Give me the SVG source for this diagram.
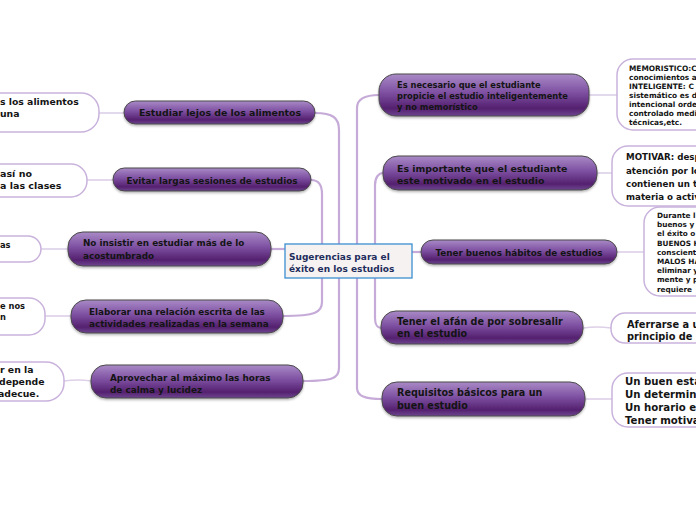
<svg xmlns="http://www.w3.org/2000/svg" width="696" height="520" viewBox="0 0 696 520">
<defs>
<linearGradient id="pg" x1="0" y1="0" x2="0" y2="1">
<stop offset="0" stop-color="#a98ac6"/>
<stop offset="0.45" stop-color="#7d4fa1"/>
<stop offset="0.82" stop-color="#54206f"/>
<stop offset="1" stop-color="#6e4590"/>
</linearGradient>
<filter id="sh" x="-10%" y="-20%" width="120%" height="160%">
<feDropShadow dx="0" dy="1.5" stdDeviation="1.2" flood-color="#000" flood-opacity="0.3"/>
</filter>
</defs>
<style>
.pill{fill:url(#pg);stroke:#4a4a4a;stroke-width:1;filter:url(#sh)}
.leaf{fill:#fff;stroke:#c9b2dc;stroke-width:1.5}
.main{fill:none;stroke:#c6abd9;stroke-width:2.2}
.sub{fill:none;stroke:#ddd0e8;stroke-width:1.6}
text{font-family:"DejaVu Sans","Liberation Sans",sans-serif;font-weight:bold;fill:#141414}
.c{text-anchor:middle}
</style>
<rect width="696" height="520" fill="#fff"/>
<g id="connectors">
<path class="main" d="M315,113 C333,113 339,118 339,130 L339,244"/>
<path class="main" d="M339,278 L339,368 C339,378 333,381 303,381"/>
<path class="main" d="M311,180 C319,180 322,185 322,194 L322,244"/>
<path class="main" d="M322,278 L322,302 C322,312 316,316 283,316"/>
<path class="main" d="M271,249 L285,249"/>
<path class="main" d="M357,244 L357,108 C357,99 364,95 379,95"/>
<path class="main" d="M357,278 L357,388 C357,396 365,399 382,399"/>
<path class="main" d="M375,244 L375,185 C375,177 379,173 383,173"/>
<path class="main" d="M375,278 L375,318 C375,325 378,328 381,328"/>
<path class="main" d="M412,252 L421,252"/>
<path class="sub" d="M99,113 L124,113"/>
<path class="sub" d="M87,180 L113,180"/>
<path class="sub" d="M41,249 L68,249"/>
<path class="sub" d="M45,316 L71,316"/>
<path class="sub" d="M64,381 Q78,379 91,381"/>
<path class="sub" d="M589,95 L617,95"/>
<path class="sub" d="M597,173 L612,173"/>
<path class="sub" d="M617,252 L644,252"/>
<path class="sub" d="M583,328 Q597,326 611,328"/>
<path class="sub" d="M585,399 L612,399"/>
</g>
<g id="center">
<rect x="285" y="244" width="127" height="34" fill="#f6f2f2" stroke="#3b8fd0" stroke-width="1.3"/>
<text x="289" y="260" font-size="9" style="fill:#1f2d5c">Sugerencias para el</text>
<text x="289" y="271.5" font-size="9" style="fill:#1f2d5c">éxito en los estudios</text>
</g>
<g id="l1">
<rect class="pill" x="124" y="101" width="191" height="23" rx="11.5"/>
<text class="c" x="220" y="116" font-size="9.4">Estudiar lejos de los alimentos</text>
</g>
<g id="l2">
<rect class="pill" x="113" y="168" width="198" height="23" rx="11.5"/>
<text class="c" x="212" y="184" font-size="8.9">Evitar largas sesiones de estudios</text>
</g>
<g id="l3">
<rect class="pill" x="68" y="232" width="203" height="34" rx="15"/>
<text x="83" y="246" font-size="8.8">No insistir en estudiar más de lo</text>
<text x="83" y="258.5" font-size="8.8">acostumbrado</text>
</g>
<g id="l4">
<rect class="pill" x="71" y="300" width="212" height="33" rx="15"/>
<text x="89" y="315" font-size="8.8">Elaborar una relación escrita  de las</text>
<text x="89" y="327" font-size="8.8">actividades  realizadas en la semana</text>
</g>
<g id="l5">
<rect class="pill" x="91" y="365" width="212" height="33" rx="15"/>
<text x="110" y="381" font-size="8.9">Aprovechar al máximo las horas</text>
<text x="110" y="392.5" font-size="8.9">de calma y lucidez</text>
</g>
<g id="ll1">
<rect class="leaf" x="-30" y="93" width="129" height="39" rx="18"/>
<text x="0" y="105" font-size="9.3">s los alimentos</text>
<text x="0" y="116.5" font-size="9.3">una</text>
</g>
<g id="ll2">
<rect class="leaf" x="-30" y="164" width="117" height="33" rx="16"/>
<text x="0" y="176.5" font-size="9.5">así no</text>
<text x="0" y="188.5" font-size="9.5">a las clases</text>
</g>
<g id="ll3">
<rect class="leaf" x="-30" y="236" width="71" height="26" rx="13"/>
<text x="0" y="248" font-size="8.3">as</text>
</g>
<g id="ll4">
<rect class="leaf" x="-30" y="298" width="75" height="37" rx="16"/>
<text x="0" y="308.5" font-size="8.3">e nos</text>
<text x="0" y="319.5" font-size="8.3">n</text>
</g>
<g id="ll5">
<rect class="leaf" x="-30" y="362" width="94" height="39" rx="18"/>
<text x="0" y="373" font-size="9.3">r en la</text>
<text x="-1" y="385" font-size="9.3">depende</text>
<text x="-2" y="397" font-size="9.3">adecue.</text>
</g>
<g id="r1">
<rect class="pill" x="379" y="74" width="210" height="42" rx="17"/>
<text x="397" y="88" font-size="8.3">Es necesario que el estudiante</text>
<text x="397" y="99" font-size="8.3">propicie el estudio inteligentemente</text>
<text x="397" y="110" font-size="8.3">y no memorístico</text>
</g>
<g id="r2">
<rect class="pill" x="383" y="156" width="214" height="34" rx="15"/>
<text x="397" y="171.5" font-size="9.4">Es importante que el estudiante</text>
<text x="397" y="184" font-size="9.4">este motivado en el estudio</text>
</g>
<g id="r3">
<rect class="pill" x="421" y="240" width="196" height="24" rx="12"/>
<text class="c" x="519" y="255.5" font-size="8.8">Tener buenos hábitos de estudios</text>
</g>
<g id="r4">
<rect class="pill" x="381" y="311" width="202" height="33" rx="15"/>
<text x="397" y="324.5" font-size="9.6">Tener el afán de por sobresalir</text>
<text x="397" y="337" font-size="9.6">en el estudio</text>
</g>
<g id="r5">
<rect class="pill" x="382" y="382" width="203" height="34" rx="15"/>
<text x="397" y="396" font-size="9.6">Requisitos básicos para un</text>
<text x="397" y="408.5" font-size="9.6">buen estudio</text>
</g>
<g id="rl1">
<rect class="leaf" x="617" y="59" width="110" height="71" rx="16"/>
<text x="629" y="71" font-size="7.4">MEMORISTICO:C</text>
<text x="629" y="80" font-size="7.4">conocimientos a</text>
<text x="629" y="89" font-size="7.4">INTELIGENTE: C</text>
<text x="629" y="98" font-size="7.4">sistemático es d</text>
<text x="629" y="107" font-size="7.4">intencional orde</text>
<text x="629" y="116" font-size="7.4">controlado medi</text>
<text x="629" y="125" font-size="7.4">técnicas,etc.</text>
</g>
<g id="rl2">
<rect class="leaf" x="612" y="146" width="110" height="60" rx="16"/>
<text x="626" y="160" font-size="8.7">MOTIVAR: desp</text>
<text x="626" y="173.5" font-size="8.7">atención por lo</text>
<text x="626" y="187" font-size="8.7">contienen un te</text>
<text x="626" y="200" font-size="8.7">materia o activ</text>
</g>
<g id="rl3">
<rect class="leaf" x="644" y="207" width="80" height="89" rx="16"/>
<text x="657" y="218" font-size="7.3">Durante l</text>
<text x="657" y="227.2" font-size="7.3">buenos y</text>
<text x="657" y="236.4" font-size="7.3">el éxito o</text>
<text x="657" y="245.6" font-size="7.3">BUENOS H</text>
<text x="657" y="254.8" font-size="7.3">conscient</text>
<text x="657" y="264" font-size="7.3">MALOS HA</text>
<text x="657" y="273.2" font-size="7.3">eliminar y</text>
<text x="657" y="282.4" font-size="7.3">mente y p</text>
<text x="657" y="291.6" font-size="7.3">requiere</text>
</g>
<g id="rl4">
<rect class="leaf" x="611" y="313" width="110" height="30" rx="14"/>
<text x="627" y="328" font-size="9.8">Aferrarse a u</text>
<text x="627" y="340" font-size="9.8">principio de c</text>
</g>
<g id="rl5">
<rect class="leaf" x="612" y="373" width="110" height="54" rx="16"/>
<text x="625" y="385" font-size="10.2">Un buen esta</text>
<text x="625" y="398" font-size="10.2">Un determina</text>
<text x="625" y="411" font-size="10.2">Un horario es</text>
<text x="625" y="424" font-size="10.2">Tener motiva</text>
</g>
</svg>
